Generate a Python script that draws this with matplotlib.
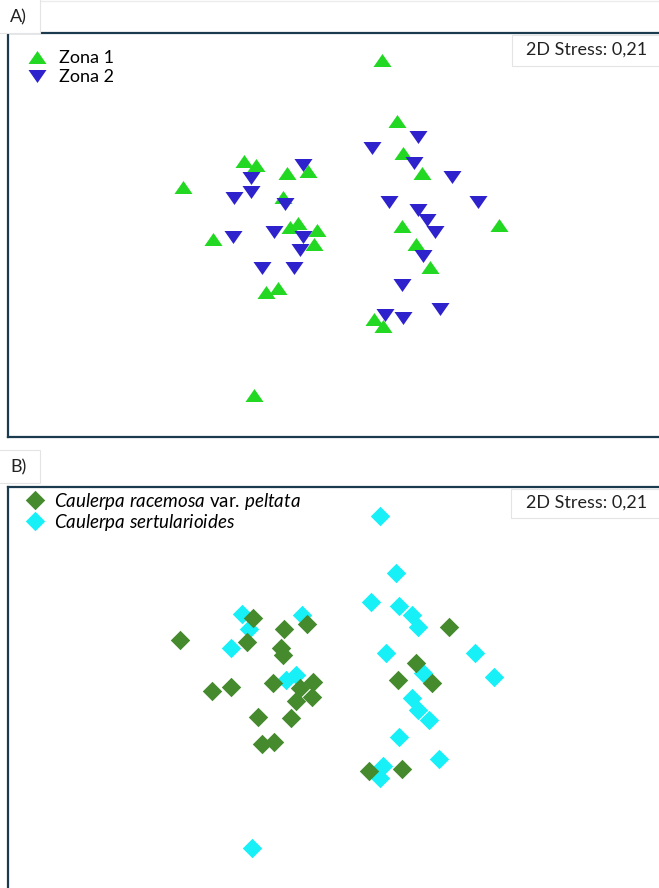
import matplotlib
matplotlib.use("Agg")
import matplotlib.pyplot as plt
from matplotlib.path import Path
from matplotlib.patches import Rectangle
from matplotlib.lines import Line2D

plt.rcParams['font.family'] = ['Lato', 'DejaVu Sans']
plt.rcParams['mathtext.fontset'] = 'custom'
plt.rcParams['mathtext.rm'] = 'Lato'
plt.rcParams['mathtext.it'] = 'Lato:italic'

# ---------------- data (nMDS coordinates) ----------------
# Panel A: zones
zona1_x = [-1.57, -0.96, -0.84, -0.53, -0.32, -0.57, -1.27, -0.50, -0.42, -0.23, -0.26, -0.74,
           -0.62, 0.57, 0.63, 0.82, 0.62, 0.76, 0.90, 1.59, 0.34, 0.43, 0.42, -0.86]
zona1_y = [0.53, 0.79, 0.75, 0.67, 0.69, 0.43, 0.01, 0.13, 0.17, 0.10, -0.04, -0.52,
           -0.48, 1.19, 0.87, 0.67, 0.14, -0.04, -0.27, 0.15, -0.79, -0.86, 1.80, -1.55]
zona2_x = [-0.37, -0.89, -0.89, -1.06, -0.55, -1.07, -0.66, -0.37, -0.40, -0.78, -0.46, 0.78,
           0.32, 0.74, 1.12, 0.49, 1.38, 0.78, 0.87, 0.95, 0.83, 0.62, 1.00, 0.45, 0.63]
zona2_y = [0.75, 0.62, 0.48, 0.42, 0.36, 0.03, 0.08, 0.03, -0.10, -0.28, -0.28, 1.03,
           0.92, 0.77, 0.63, 0.38, 0.38, 0.30, 0.20, 0.08, -0.16, -0.45, -0.69, -0.75, -0.78]

# Panel B: species
racemosa_x = [-1.60, -0.87, -0.93, -0.56, -0.33, -0.59, -0.57, -1.28, -1.09, -0.67, -0.40, -0.27,
              -0.28, -0.44, -0.82, -0.49, -0.78, -0.66, 1.09, 0.76, 0.58, 0.92, 0.29, 0.62]
racemosa_y = [0.55, 0.77, 0.53, 0.66, 0.71, 0.47, 0.40, 0.04, 0.08, 0.12, 0.07, 0.13,
              -0.02, -0.06, -0.22, -0.23, -0.49, -0.47, 0.68, 0.32, 0.15, 0.12, -0.76, -0.74]
sertul_x = [-0.98, -0.91, -1.09, -0.38, -0.54, -0.44, 0.56, 0.31, 0.59, 0.72, 0.78, 0.46,
            1.35, 0.83, 1.54, 0.72, 0.78, 0.89, 0.59, 0.99, 0.43, 0.40, 0.40, -0.88]
sertul_y = [0.81, 0.66, 0.47, 0.80, 0.15, 0.20, 1.22, 0.93, 0.89, 0.80, 0.68, 0.42,
            0.42, 0.22, 0.18, -0.03, -0.15, -0.25, -0.42, -0.64, -0.71, -0.83, 1.79, -1.53]

labels_a = ["Zona 1", "Zona 2"]
labels_b = [r"$\mathit{Caulerpa\ racemosa}$ var. $\mathit{peltata}$",
            r"$\mathit{Caulerpa\ sertularioides}$"]
stress_text = "2D Stress: 0,21"
panel_labels = ["A)", "B)"]

# ---------------- styling ----------------
W, H = 659, 888
fig = plt.figure(figsize=(W / 100, H / 100), dpi=100)
fig.patch.set_facecolor("white")

def fx(px):
    return px / W

def fy(py):
    return 1 - py / H

up_tri = Path([(0, 0.72), (1, -0.72), (-1, -0.72), (0, 0.72)],
              [Path.MOVETO, Path.LINETO, Path.LINETO, Path.CLOSEPOLY])
down_tri = Path([(0, -0.72), (1, 0.72), (-1, 0.72), (0, -0.72)],
                [Path.MOVETO, Path.LINETO, Path.LINETO, Path.CLOSEPOLY])
diamond = Path([(0, 1), (1, 0), (0, -1), (-1, 0), (0, 1)],
               [Path.MOVETO, Path.LINETO, Path.LINETO, Path.LINETO, Path.CLOSEPOLY])

GREEN = "#22d822"
BLUE = "#2d22cc"
DKGREEN = "#468a2e"
CYAN = "#18f0f8"
SPINE = "#1b3a4e"
FS = 13

def make_axes(top_px, bottom_px):
    left_px, right_px = 8, 672
    ax = fig.add_axes([fx(left_px), fy(bottom_px), (right_px - left_px) / W,
                       (bottom_px - top_px) / H])
    ax.set_xticks([])
    ax.set_yticks([])
    for s in ax.spines.values():
        s.set_color(SPINE)
        s.set_linewidth(1.6)
    return ax

# Panel A
axA = make_axes(33, 437)
axA.set_xlim((8 - 340) / 100, (672 - 340) / 100)
axA.set_ylim((240 - 437) / 100, (240 - 33) / 100)
axA.plot(zona1_x, zona1_y, ls="none", marker=up_tri, ms=13, color=GREEN, mec="none", label=labels_a[0])
axA.plot(zona2_x, zona2_y, ls="none", marker=down_tri, ms=13, color=BLUE, mec="none", label=labels_a[1])
legA = axA.legend(loc="upper left", bbox_to_anchor=(fx(28), fy(50)), bbox_transform=fig.transFigure,
                  frameon=False, fontsize=FS, borderpad=0, borderaxespad=0, handlelength=1.0,
                  handletextpad=0.72, labelspacing=0.17)

# Panel B
axB = make_axes(487, 900)
axB.set_xlim((8 - 340) / 100, (672 - 340) / 100)
axB.set_ylim((695 - 900) / 100, (695 - 487) / 100)
axB.plot(sertul_x, sertul_y, ls="none", marker=diamond, ms=14, color=CYAN, mec="none", zorder=2)
axB.plot(racemosa_x, racemosa_y, ls="none", marker=diamond, ms=14, color=DKGREEN, mec="none", zorder=3)
hB = [Line2D([], [], ls="none", marker=diamond, ms=14, color=DKGREEN, mec="none"),
      Line2D([], [], ls="none", marker=diamond, ms=14, color=CYAN, mec="none")]
legB = axB.legend(hB, labels_b, loc="upper left", bbox_to_anchor=(fx(26), fy(491)),
                  bbox_transform=fig.transFigure, frameon=False, fontsize=13.5, borderpad=0,
                  borderaxespad=0, handlelength=0.96, handletextpad=0.52, labelspacing=0.0)

# Panel label boxes and stress boxes (figure pixel space)
def box(x0, y0, x1, y1, z=5):
    fig.patches.append(Rectangle((fx(x0), fy(y1)), (x1 - x0) / W, (y1 - y0) / H,
                                 transform=fig.transFigure, facecolor="white",
                                 edgecolor="#e4e4e4", lw=0.8, zorder=z))

fig.add_artist(Line2D([fx(40), fx(659)], [fy(1), fy(1)], transform=fig.transFigure,
                      color="#ececec", lw=1.0))
box(-2, -2, 40, 33)
box(-2, 450, 40, 483)
fig.text(fx(10), fy(17), panel_labels[0], fontsize=FS, va="center", ha="left", color="#222222", zorder=8)
fig.text(fx(10), fy(467), panel_labels[1], fontsize=FS, va="center", ha="left", color="#222222", zorder=8)

box(512, 35, 680, 66, z=6)
box(511, 489, 680, 518, z=6)
fig.text(fx(587), fy(50), stress_text, fontsize=FS, va="center", ha="center", color="#222222", zorder=8)
fig.text(fx(587), fy(503), stress_text, fontsize=FS, va="center", ha="center", color="#222222", zorder=8)

fig.savefig("out.png", dpi=100, facecolor="white")
